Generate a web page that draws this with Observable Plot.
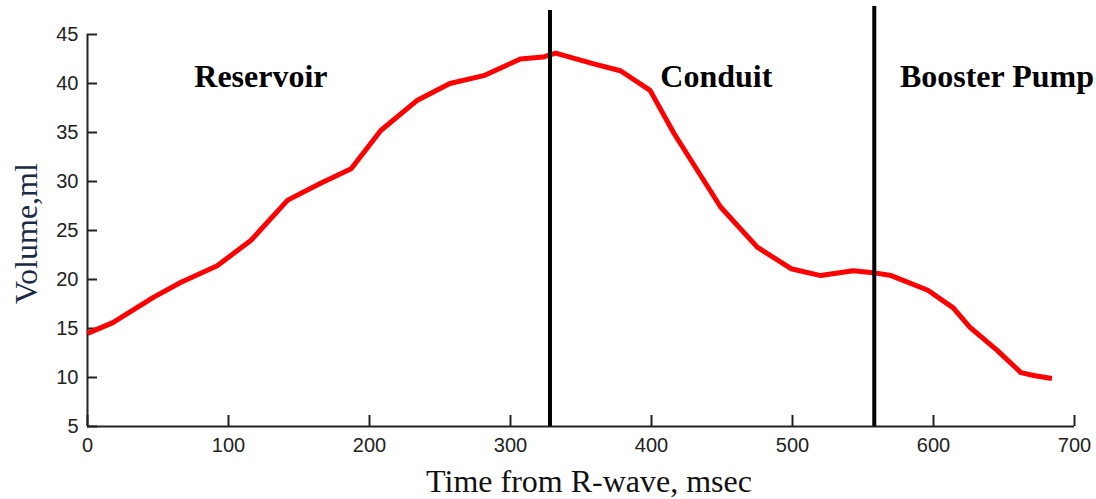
<!DOCTYPE html>
<html>
<head>
<meta charset="utf-8">
<script src="https://cdn.jsdelivr.net/npm/d3@7"></script>
<script src="https://cdn.jsdelivr.net/npm/@observablehq/plot@0.6"></script>
<style>
  html, body { margin: 0; padding: 0; background: #fff; }
  #chart svg { display: block; }
</style>
</head>
<body>
<div id="chart"></div>
<script>
// Left-atrial volume over the cardiac cycle, measured from the R-wave
const timeMs = [0, 18, 47, 66, 92, 116, 142, 165, 187, 208, 234, 257, 281, 307, 323, 332,
  359, 378, 399, 416, 449, 475, 499, 520, 543, 557, 570, 596, 614, 626, 645, 662, 671, 684];
const volumeMl = [14.5, 15.6, 18.2, 19.7, 21.4, 24.0, 28.1, 29.8, 31.3, 35.2, 38.3, 40.0, 40.8, 42.5, 42.7, 43.1,
  42.0, 41.3, 39.3, 34.9, 27.4, 23.3, 21.1, 20.4, 20.9, 20.7, 20.4, 18.9, 17.1, 15.1, 12.8, 10.5, 10.2, 9.9];

// Phase boundaries (ms) and phase names with the time they are centred on
const phaseBounds = [328, 558];
const phaseNames = ["Reservoir", "Conduit", "Booster Pump"];
const phaseLabelMs = [123, 446, 645];

const xTicks = [0, 100, 200, 300, 400, 500, 600, 700];
const yTicks = [5, 10, 15, 20, 25, 30, 35, 40, 45];

const xTitle = "Time from R-wave, msec";
const yTitle = "Volume,ml";

const samples = timeMs.map((t, i) => ({t, v: volumeMl[i]}));
const phases = phaseNames.map((name, i) => ({name, t: phaseLabelMs[i]}));

const W = 1096, H = 499;
const M = {top: 34, right: 22, bottom: 73, left: 87};
const innerW = W - M.left - M.right;
const innerH = H - M.top - M.bottom;

const serif = "'Liberation Serif', 'Times New Roman', serif";
const sans = "'Liberation Sans', Arial, sans-serif";

const chart = Plot.plot({
  width: W,
  height: H,
  marginTop: M.top,
  marginRight: M.right,
  marginBottom: M.bottom,
  marginLeft: M.left,
  x: {domain: [0, 700], axis: null},
  y: {domain: [5, 45], axis: null},
  style: {background: "#fff", overflow: "visible"},
  marks: [
    // inward tick marks
    Plot.tickX(xTicks, {x: d => d, stroke: "#222", strokeWidth: 2, insetTop: innerH - 11}),
    Plot.tickY(yTicks, {y: d => d, stroke: "#222", strokeWidth: 2, insetRight: innerW - 10}),
    // axis lines
    Plot.ruleY([5], {stroke: "#222", strokeWidth: 2}),
    Plot.ruleX([0], {stroke: "#222", strokeWidth: 2}),
    // tick labels
    Plot.text(xTicks, {x: d => d, text: d => String(d), frameAnchor: "bottom", lineAnchor: "middle", dy: 19,
      fontSize: 20, fontFamily: sans, fill: "#222"}),
    Plot.text(yTicks, {y: d => d, text: d => String(d), frameAnchor: "left", dx: -9,
      textAnchor: "end", lineAnchor: "middle", fontSize: 20, fontFamily: sans, fill: "#222"}),
    // volume curve
    Plot.line(samples, {x: "t", y: "v", stroke: "#ff0000", strokeWidth: 5,
      strokeLinejoin: "round", strokeLinecap: "butt"}),
    // phase dividers
    Plot.ruleX([phaseBounds[0]], {x: d => d, stroke: "#000", strokeWidth: 4, insetTop: -24}),
    Plot.ruleX([phaseBounds[1]], {x: d => d, stroke: "#000", strokeWidth: 4, insetTop: -28}),
    // phase names
    Plot.text(phases, {x: "t", text: "name", frameAnchor: "top", lineAnchor: "middle", dy: 42,
      fontSize: 32, fontWeight: "bold", fontFamily: serif, fill: "#000"}),
    // axis titles
    Plot.text([xTitle], {text: d => d, frameAnchor: "bottom", lineAnchor: "middle", textAnchor: "middle",
      dx: 8, dy: 55, fontSize: 32, fontFamily: serif, fill: "#111"}),
    Plot.text([yTitle], {text: d => d, frameAnchor: "left", lineAnchor: "middle", textAnchor: "middle",
      dx: -61, dy: 3, rotate: -90, fontSize: 32, fontFamily: serif, fill: "#1c2a48"})
  ]
});

document.getElementById("chart").appendChild(chart);
</script>
</body>
</html>
